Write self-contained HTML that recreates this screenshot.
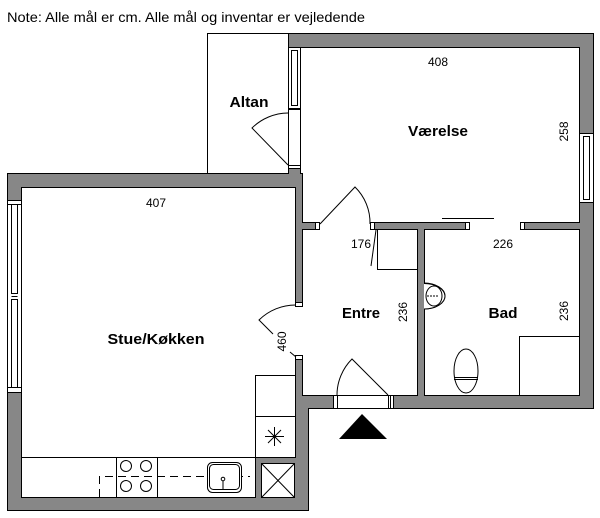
<!DOCTYPE html>
<html><head><meta charset="utf-8"><style>
html,body{margin:0;padding:0;background:#fff;}
svg{display:block;}
text{font-family:"Liberation Sans",sans-serif;fill:#000;}
.b{font-weight:bold;font-size:15px;}
.n{font-size:12px;}
</style></head><body>
<svg width="600" height="518" viewBox="0 0 600 518" xmlns="http://www.w3.org/2000/svg">
<rect x="0" y="0" width="600" height="518" fill="#fff"/>
<text x="7" y="22" font-size="14" textLength="358" lengthAdjust="spacingAndGlyphs">Note: Alle mål er cm. Alle mål og inventar er vejledende</text>

<!-- Altan -->
<rect x="207.5" y="33.5" width="81" height="140" fill="#fff" stroke="#000" stroke-width="1"/>

<!-- footprint walls -->
<polygon points="7.5,173.5 288.5,173.5 288.5,33.5 593.5,33.5 593.5,408.5 308.5,408.5 308.5,510.5 7.5,510.5" fill="#878787" stroke="#000" stroke-width="1"/>

<!-- rooms -->
<polygon points="21.5,187.5 295.5,187.5 295.5,457.5 255.5,457.5 255.5,497.5 21.5,497.5" fill="#fff" stroke="#000" stroke-width="1"/>
<polygon points="300.5,47.5 579.5,47.5 579.5,222.5 302.5,222.5 302.5,173.5 300.5,173.5" fill="#fff" stroke="#000" stroke-width="1"/>
<rect x="302.5" y="229.5" width="115" height="166" fill="#fff" stroke="#000" stroke-width="1"/>
<rect x="424.5" y="229.5" width="155" height="166" fill="#fff" stroke="#000" stroke-width="1"/>

<!-- openings -->
<rect x="320" y="221" width="50" height="10" fill="#fff"/>
<rect x="315.5" y="222.5" width="4" height="7" fill="#fff" stroke="#000"/>
<rect x="370.5" y="222.5" width="4" height="7" fill="#fff" stroke="#000"/>
<rect x="469" y="221" width="51" height="10" fill="#fff"/>
<rect x="465.5" y="222.5" width="4" height="7" fill="#fff" stroke="#000"/>
<rect x="520.5" y="222.5" width="4" height="7" fill="#fff" stroke="#000"/>

<rect x="294" y="306" width="10" height="49" fill="#fff"/>
<rect x="295.5" y="302.5" width="7" height="4" fill="#fff" stroke="#000"/>
<rect x="295.5" y="355.5" width="7" height="4" fill="#fff" stroke="#000"/>

<rect x="333.5" y="395.5" width="60" height="13" fill="#fff" stroke="#000"/>
<line x1="337.5" y1="395.5" x2="337.5" y2="408.5" stroke="#000"/>
<line x1="388.5" y1="395.5" x2="388.5" y2="408.5" stroke="#000"/>
<line x1="390.5" y1="395.5" x2="390.5" y2="408.5" stroke="#000"/>

<rect x="288.5" y="109.5" width="12" height="56" fill="#fff" stroke="#000"/>
<rect x="288.5" y="165.5" width="12" height="3" fill="#fff" stroke="#000"/>

<!-- windows -->
<rect x="7.5" y="200.5" width="14" height="192" fill="#fff" stroke="#000"/>
<rect x="11.5" y="204.5" width="6" height="89" fill="#fff" stroke="#000"/>
<rect x="11.5" y="299.5" width="6" height="88" fill="#fff" stroke="#000"/>
<line x1="7.5" y1="204.5" x2="21.5" y2="204.5" stroke="#000"/>
<line x1="7.5" y1="387.5" x2="21.5" y2="387.5" stroke="#000"/>
<line x1="11.5" y1="296.5" x2="17.5" y2="296.5" stroke="#000"/>

<rect x="288.5" y="47.5" width="12" height="61" fill="#fff" stroke="#000"/>
<rect x="291.5" y="50.5" width="6" height="55" fill="#fff" stroke="#000"/>

<rect x="579.5" y="133.5" width="14" height="69" fill="#fff" stroke="#000"/>
<rect x="583.5" y="136.5" width="6" height="63" fill="#fff" stroke="#000"/>

<!-- doors -->
<g fill="none" stroke="#000" stroke-width="1">
<path d="M288,113 A52,52 0 0 0 252,128 L288,165"/>
<path d="M320,224 L355,187 A50,50 0 0 1 370,224"/>
<path d="M296,305 A52,52 0 0 0 259,320 L273,334"/>
<path d="M290,352 L296,357"/>
<path d="M388,395 L352,359 A51,51 0 0 0 337,395"/>
<!-- closet -->
<path d="M377.5,229 L377.5,269.5 L417,269.5"/>
<path d="M376,230 L371,266"/>
<!-- sliding -->
<line x1="442" y1="218.5" x2="494" y2="218.5"/>
<!-- shower -->
<path d="M519.5,395 L519.5,336.5 L579,336.5"/>
<!-- toilet -->
<ellipse cx="466" cy="371" rx="12" ry="22" fill="#fff"/>
<line x1="454" y1="377.5" x2="478" y2="377.5"/>
<line x1="454" y1="379.5" x2="478" y2="379.5"/>
<!-- bad sink -->
<path d="M424,283 A21,13 0 0 1 424,309" />
<path d="M424,283.5 A21,13 0 0 1 445,296 A21,13 0 0 1 424,309" fill="#fff"/>
<ellipse cx="434" cy="296" rx="8" ry="10"/>
<line x1="427" y1="296" x2="438" y2="296" stroke-dasharray="2,1"/>
<!-- kitchen -->
<line x1="21" y1="457.5" x2="255" y2="457.5"/>
<rect x="255.5" y="375.5" width="40" height="82" fill="#fff"/>
<line x1="255.5" y1="416.5" x2="295.5" y2="416.5"/>
<line x1="116.5" y1="457.5" x2="116.5" y2="497.5"/>
<line x1="157.5" y1="457.5" x2="157.5" y2="497.5"/>
<path d="M99.5,497 L99.5,476.5 L250,476.5" stroke-dasharray="8,5"/>
<circle cx="126" cy="466" r="5.5" fill="#fff"/>
<circle cx="146" cy="466" r="5.5" fill="#fff"/>
<circle cx="126" cy="486" r="5.5" fill="#fff"/>
<circle cx="146" cy="486" r="5.5" fill="#fff"/>
<rect x="207.5" y="462.5" width="34" height="30" rx="5" fill="#fff"/>
<rect x="209.5" y="464.5" width="30" height="25" rx="4" fill="#fff"/>
<circle cx="223" cy="479" r="1.8"/>
<line x1="223" y1="481" x2="223" y2="489"/>
<line x1="218" y1="489.5" x2="229" y2="489.5"/>
<!-- star -->
<line x1="265" y1="436.5" x2="284" y2="436.5"/>
<line x1="274.5" y1="427" x2="274.5" y2="446"/>
<line x1="268" y1="430" x2="281" y2="443"/>
<line x1="281" y1="430" x2="268" y2="443"/>
<!-- shaft -->
<rect x="261.5" y="463.5" width="33" height="34" fill="#fff"/>
<line x1="261.5" y1="463.5" x2="294.5" y2="497.5"/>
<line x1="294.5" y1="463.5" x2="261.5" y2="497.5"/>
</g>
<circle cx="274.5" cy="436.5" r="1.5" fill="#000"/>

<!-- entrance triangle -->
<polygon points="362,414 339,439 387,439" fill="#000"/>

<!-- labels -->
<text class="b" x="249" y="107" text-anchor="middle" textLength="39" lengthAdjust="spacingAndGlyphs">Altan</text>
<text class="b" x="438" y="136" text-anchor="middle" textLength="60" lengthAdjust="spacingAndGlyphs">Værelse</text>
<text class="b" x="156" y="344" text-anchor="middle" textLength="97" lengthAdjust="spacingAndGlyphs">Stue/Køkken</text>
<text class="b" x="361" y="318" text-anchor="middle" textLength="38" lengthAdjust="spacingAndGlyphs">Entre</text>
<text class="b" x="503" y="318" text-anchor="middle" textLength="29" lengthAdjust="spacingAndGlyphs">Bad</text>

<text class="n" x="438" y="66" text-anchor="middle">408</text>
<text class="n" x="156" y="207" text-anchor="middle">407</text>
<text class="n" x="361" y="248" text-anchor="middle">176</text>
<text class="n" x="503" y="248" text-anchor="middle">226</text>
<text class="n" transform="translate(568,131.5) rotate(-90)" text-anchor="middle">258</text>
<text class="n" transform="translate(407,312) rotate(-90)" text-anchor="middle">236</text>
<text class="n" transform="translate(568,311) rotate(-90)" text-anchor="middle">236</text>
<text class="n" transform="translate(286,341.5) rotate(-90)" text-anchor="middle">460</text>
</svg>
</body></html>
